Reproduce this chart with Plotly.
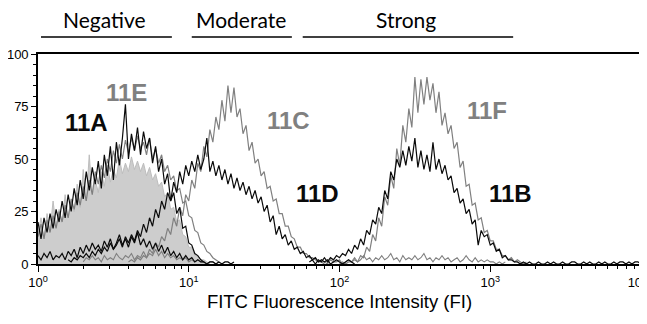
import plotly.graph_objects as go

# ---------------- data (histogram channels on a log10 grid, step 0.02 decade) ----------------
STEP = 0.02

# negative control (filled, light gray), starts at 10^0.00
ctrl_start = 0.00
ctrl_counts = [14, 22, 12, 24, 16, 30, 18, 26, 20, 33, 22, 30, 25, 38, 27, 45, 30, 52, 33, 40,
               34, 44, 37, 47, 39, 45, 41, 50, 43, 48, 44, 51, 45, 49, 44, 48, 42, 46, 40, 43,
               37, 39, 32, 34, 26, 27, 20, 21, 14, 13, 8, 8, 4, 4, 2, 2, 1, 0]

# 11E (gray), starts at 10^0.00
e11_start = 0.00
e11_counts = [13, 19, 12, 21, 15, 23, 17, 25, 20, 28, 22, 31, 26, 34, 28, 37, 30, 40, 33, 44,
              38, 47, 41, 50, 44, 54, 48, 57, 50, 59, 53, 60, 54, 61, 55, 58, 52, 60, 50, 55,
              48, 52, 44, 47, 40, 42, 35, 36, 29, 30, 23, 22, 16, 15, 10, 9, 6, 5, 3, 2, 1]

# 11A (black), starts at 10^0.00
a11_start = 0.00
a11_counts = [20, 12, 22, 15, 24, 17, 26, 20, 30, 22, 33, 25, 36, 28, 40, 31, 44, 35, 46, 38,
              49, 36, 52, 42, 56, 40, 58, 47, 60, 76, 50, 62, 54, 65, 52, 63, 55, 60, 48, 56,
              44, 50, 38, 43, 30, 34, 24, 27, 17, 18, 10, 9, 5, 4, 2, 1]

# low black background population, starts at 10^0.00
lowk_start = 0.00
lowk_counts = [4, 2, 5, 3, 6, 2, 4, 3, 5, 2, 6, 4, 7, 3, 8, 5, 9, 6, 10, 7,
               9, 6, 11, 8, 12, 7, 10, 14, 9, 12, 8, 13, 10, 15, 9, 12, 8, 11, 7, 10,
               6, 9, 5, 8, 4, 6, 3, 5, 2, 4, 2, 3, 1, 2, 1, 1, 0, 1, 1, 0,
               1, 0, 1, 1, 0, 1]

# low gray background population (negative range), starts at 10^0.30
lowg1_start = 0.30
lowg1_counts = [1, 3, 2, 4, 2, 3, 1, 4, 2, 3, 2, 5, 3, 2, 4, 3, 5, 2, 4, 3,
                6, 3, 5, 4, 7, 4, 6, 3, 5, 3, 4, 2, 3, 2, 3, 1, 2, 1, 2, 1,
                1, 0, 1, 1, 0, 1]

# 11C (gray), starts at 10^0.60
c11_start = 0.60
c11_counts = [1, 2, 1, 3, 2, 4, 3, 7, 5, 10, 8, 13, 11, 17, 14, 22, 18, 27, 23, 33,
              30, 40, 36, 48, 44, 56, 51, 64, 58, 70, 64, 78, 68, 85, 72, 84, 70, 74, 62, 66,
              54, 58, 48, 50, 42, 44, 36, 37, 30, 31, 24, 24, 18, 18, 13, 12, 8, 8, 5, 5,
              3, 3, 2, 1, 1, 0]

# 11D (black), starts at 10^0.20
d11_start = 0.20
d11_counts = [2, 1, 3, 2, 4, 3, 5, 3, 6, 4, 7, 5, 8, 6, 10, 7, 9, 12, 8, 13,
              10, 14, 11, 16, 13, 19, 15, 22, 18, 26, 22, 30, 26, 34, 30, 39, 34, 44, 38, 47,
              42, 49, 44, 52, 45, 50, 60, 44, 49, 42, 47, 40, 45, 38, 43, 36, 41, 35, 39, 33,
              37, 31, 35, 29, 32, 25, 28, 20, 23, 14, 18, 12, 14, 9, 11, 7, 8, 5, 6, 3,
              4, 2, 3, 1, 2, 1, 2, 0, 1, 2, 1, 0, 1, 2, 1, 0]

# 11F (gray), starts at 10^2.00
f11_start = 2.00
f11_counts = [0, 1, 0, 1, 1, 2, 1, 4, 3, 8, 6, 14, 11, 22, 18, 32, 28, 42, 36, 55,
              47, 66, 58, 74, 65, 89, 72, 88, 76, 89, 78, 86, 72, 82, 66, 72, 62, 66, 55, 58,
              46, 49, 37, 38, 28, 29, 21, 22, 15, 16, 11, 11, 7, 7, 4, 4, 2, 3, 1, 2,
              1, 0, 1]

# 11B (black), starts at 10^1.80
b11_start = 1.80
b11_counts = [1, 2, 0, 2, 1, 3, 1, 3, 2, 4, 3, 5, 4, 7, 5, 9, 7, 12, 9, 16,
              14, 21, 19, 27, 24, 35, 31, 44, 40, 50, 46, 54, 47, 56, 49, 60, 46, 54, 45, 52,
              44, 58, 45, 50, 43, 47, 40, 42, 34, 36, 29, 31, 24, 26, 19, 21, 9, 16, 13, 14,
              9, 10, 6, 7, 3, 4, 2, 2, 1, 1, 0, 1, 0, 1, 0, 0]

# low gray background population (strong range), starts at 10^1.90
lowg2_start = 1.90
lowg2_counts = [1, 0, 2, 1, 1, 2, 0, 1, 2, 1, 3, 1, 2, 4, 2, 3, 1, 3, 2, 4,
                2, 3, 5, 2, 3, 1, 4, 2, 3, 2, 4, 2, 3, 5, 2, 3, 1, 3, 2, 4,
                2, 3, 1, 2, 3, 1, 2, 4, 2, 1, 3, 1, 2, 1, 2, 1, 1, 0, 1, 0, 1]

# sparse black events along the baseline at high intensity, starts at 10^3.30
tail_start = 3.30
tail_counts = [0, 1, 0, 0, 1, 0, 1, 0, 0, 1, 0, 0, 1, 1, 0, 0, 1, 0, 1, 0,
               0, 1, 0, 1, 0, 0, 1, 0, 1, 1, 0, 1, 0, 1, 1, 0]

x_tick_vals = [1, 10, 100, 1000, 10000]
x_tick_text = ["10<sup>0</sup>", "10<sup>1</sup>", "10<sup>2</sup>", "10<sup>3</sup>",
               "10<sup>4</sup>\u00a0\u00a0"]
y_tick_vals = [0, 25, 50, 75, 100]

category_labels = ["Negative", "Moderate", "Strong"]
sample_labels = ["11A", "11E", "11C", "11D", "11F", "11B"]

# ---------------- styling ----------------
BLACK = "#0a0a0a"
GRAY = "#808080"
LIGHT_FILL = "#cdcdcd"
LIGHT_LINE = "#bdbdbd"
FONT = "Arial"


def channels(start, counts):
    return [10 ** (start + i * STEP) for i in range(len(counts))]


fig = go.Figure()


def add(start, counts, color, width=1.0, fill=None, fillcolor=None):
    fig.add_trace(go.Scatter(
        x=channels(start, counts), y=counts, mode="lines",
        line=dict(color=color, width=width, shape="linear"),
        fill=fill, fillcolor=fillcolor, hoverinfo="skip", showlegend=False))


add(ctrl_start, ctrl_counts, LIGHT_LINE, 1.0, fill="tozeroy", fillcolor=LIGHT_FILL)
add(lowg1_start, lowg1_counts, GRAY, 1.1)
add(lowg2_start, lowg2_counts, GRAY, 1.1)
add(e11_start, e11_counts, GRAY, 1.2)
add(c11_start, c11_counts, GRAY, 1.2)
add(f11_start, f11_counts, GRAY, 1.2)
add(lowk_start, lowk_counts, BLACK, 1.2)
add(a11_start, a11_counts, BLACK, 1.2)
add(d11_start, d11_counts, BLACK, 1.2)
add(b11_start, b11_counts, BLACK, 1.2)
add(tail_start, tail_counts, BLACK, 1.2)

minor_vals = [m * 10 ** d for d in range(4) for m in range(2, 10)]

# the page body adds an 8px offset, so margins are reduced by 8 on the left/top
fig.update_layout(
    width=647, height=324,
    margin=dict(l=30, r=14, t=46, b=68, autoexpand=False),
    paper_bgcolor="white", plot_bgcolor="white",
    showlegend=False,
    font=dict(family=FONT, color="black", size=13),
    xaxis=dict(
        type="log", range=[0, 4],
        showline=True, linecolor="black", linewidth=1.6, mirror=True,
        ticks="outside", ticklen=6, tickwidth=1.2, tickcolor="black",
        tickmode="array", tickvals=x_tick_vals, ticktext=x_tick_text,
        tickfont=dict(family=FONT, size=13), ticklabeloverflow="allow",
        showgrid=False, zeroline=False, automargin=False,
        minor=dict(ticks="outside", ticklen=3, tickwidth=1, tickcolor="black",
                   tickmode="array", tickvals=minor_vals, showgrid=False),
        title=dict(text="FITC Fluorescence Intensity (FI)", font=dict(family=FONT, size=18.5), standoff=6),
    ),
    yaxis=dict(
        range=[0, 100],
        showline=True, linecolor="black", linewidth=1.6, mirror=True,
        ticks="outside", ticklen=5, tickwidth=1.2, tickcolor="black",
        tickmode="array", tickvals=y_tick_vals,
        tickfont=dict(family=FONT, size=13),
        showgrid=False, zeroline=False, automargin=False,
        minor=dict(ticks="outside", ticklen=3, tickwidth=1, tickcolor="black", dtick=5, showgrid=False),
    ),
)

# category headers with underline bars
header_pos = [(0.111, 0.005, 0.222), (0.337, 0.255, 0.421), (0.610, 0.439, 0.788)]
for text, (cx, x0, x1) in zip(category_labels, header_pos):
    fig.add_annotation(text=text, x=cx, y=1.164, xref="paper", yref="paper",
                       xanchor="center", yanchor="middle", showarrow=False,
                       font=dict(family="Lato", size=21, color="black"))
    fig.add_shape(type="line", xref="paper", yref="paper", x0=x0, x1=x1, y0=1.081, y1=1.081,
                  line=dict(color="black", width=1.3))

# sample labels
label_pos = {"11A": (0.081, 0.676, BLACK), "11E": (0.146, 0.819, GRAY),
             "11C": (0.415, 0.681, GRAY), "11D": (0.464, 0.338, BLACK),
             "11F": (0.745, 0.729, GRAY), "11B": (0.783, 0.338, BLACK)}
for lab in sample_labels:
    px, py, col = label_pos[lab]
    fig.add_annotation(text="<b>%s</b>" % lab, x=px, y=py, xref="paper", yref="paper",
                       xanchor="center", yanchor="middle", showarrow=False,
                       font=dict(family=FONT, size=24, color=col))

fig.write_html("out.html")
